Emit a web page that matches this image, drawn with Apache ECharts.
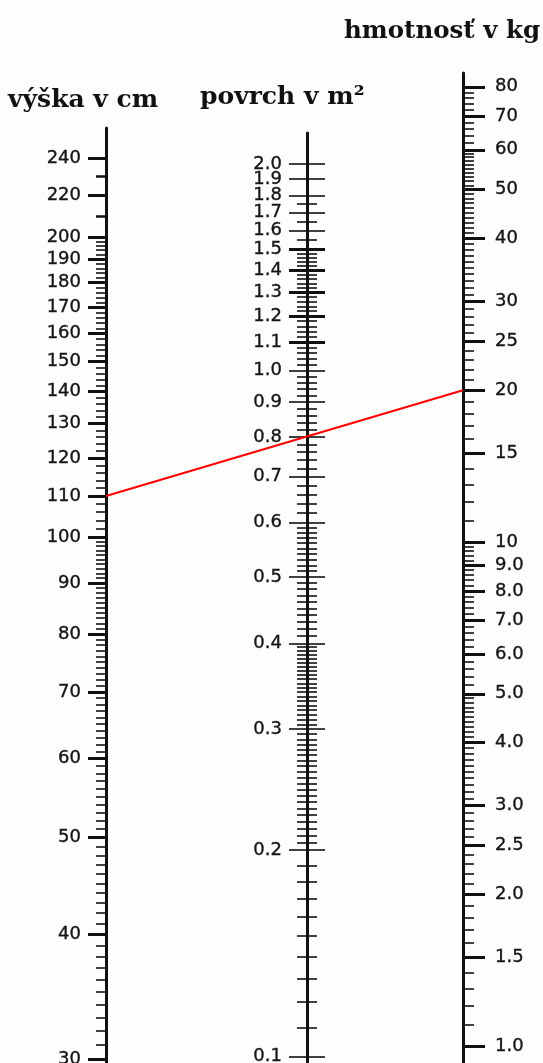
<!DOCTYPE html>
<html><head><meta charset="utf-8">
<script src="https://cdn.jsdelivr.net/npm/echarts@6/dist/echarts.min.js"></script>
<style>html,body{margin:0;padding:0;background:#fdfdfb}#c{width:543px;height:1063px}</style>
</head><body><div id="c"></div>
<script>
// ---------- data ----------
// height scale (cm)
const heightLabels = [30,40,50,60,70,80,90,100,110,120,130,140,150,160,170,180,190,200,220,240];
const heightMediumTicks = [210,230];
const heightMinorRanges = [[30,100,1],[100,200,2]];
// surface scale (m²)
const surfaceLabels = [0.1,0.2,0.3,0.4,0.5,0.6,0.7,0.8,0.9,1.0,1.1,1.2,1.3,1.4,1.5,1.6,1.7,1.8,1.9,2.0];
const surfaceBoldTicks = [1.1,1.2,1.3,1.4,1.5];
const surfaceMinorRanges = [[0.1,0.2,0.01],[0.2,0.4,0.005],[0.4,0.6,0.01],[0.6,1.5,0.02],[1.5,1.8,0.05]];
// weight scale (kg)
const weightLabels = [1.0,1.5,2.0,2.5,3.0,4.0,5.0,6.0,7.0,8.0,9.0,10,15,20,25,30,40,50,60,70,80];
const weightMinorRanges = [[1,5,0.1],[5,10,0.2],[10,60,1],[60,80,2]];
// example reading (red line)
const reading = [110, 20]; // height cm, weight kg
// axis ranges (visible extent of each scale line)
const heightRange = [29.25, 257.2];
const surfaceRange = [0.09557, 2.219];
const weightRange = [0.8966, 85.2];

// ---------- helpers ----------
function expand(ranges, exclude) {
  const out = [];
  const ex = new Set(exclude.map(v => Math.round(v * 1000)));
  ranges.forEach(([a, b, s]) => {
    const n = Math.round((b - a) / s);
    for (let i = 1; i < n; i++) {
      const v = Math.round((a + i * s) * 1000) / 1000;
      if (!ex.has(Math.round(v * 1000))) out.push(v);
    }
  });
  return out;
}
// start the label list in the middle so the crowded top labels are not treated as end labels
function midFirst(arr) {
  const h = Math.floor(arr.length / 2);
  return arr.slice(h).concat(arr.slice(0, h));
}
const heightMinor = expand(heightMinorRanges, heightLabels.concat(heightMediumTicks));
const surfaceLong = surfaceLabels.filter(v => surfaceBoldTicks.indexOf(v) < 0);
const surfaceMinor = expand(surfaceMinorRanges, surfaceLabels);
const weightMinor = expand(weightMinorRanges, weightLabels);

const INK = '#111';
const LBL = {fontFamily: 'DejaVu Sans', fontSize: 18, color: '#151515',
             textBorderColor: '#151515', textBorderWidth: 0.35, hideOverlap: false};

function yAx(grid, range, o) {
  const base = {
    type: 'log', logBase: 10, gridIndex: grid, min: range[0], max: range[1],
    position: 'left', offset: 0,
    axisLine: {show: false}, splitLine: {show: false},
    axisLabel: {show: false}, axisTick: {show: false}
  };
  return Object.assign(base, o);
}
function ticks(values, len, width, inside) {
  return {show: true, customValues: values, length: len, inside: !!inside,
          lineStyle: {color: INK, width: width}};
}

const grids = [
  {left: 106, width: 20, top: 128, bottom: -7, outerBoundsMode: 'none'},
  {left: 307, width: 20, top: 133, bottom: -7, outerBoundsMode: 'none'},
  {left: 463, width: 20, top: 73, bottom: -7, outerBoundsMode: 'none'}
];
const xAxes = grids.map((g, i) => ({type: 'value', gridIndex: i, min: 0, max: 1, show: false}));

const yAxes = [
  // height
  yAx(0, heightRange, {
    axisLine: {show: true, lineStyle: {color: INK, width: 3}},
    axisTick: ticks(midFirst(heightLabels), 18, 3),
    axisLabel: Object.assign({show: true, customValues: midFirst(heightLabels), margin: 25,
      formatter: v => String(Math.round(v))}, LBL)
  }),
  yAx(0, heightRange, {axisTick: ticks(heightMediumTicks, 10, 2.5)}),
  yAx(0, heightRange, {axisTick: ticks(heightMinor, 10, 1.6)}),
  // surface
  yAx(1, surfaceRange, {
    axisLine: {show: true, lineStyle: {color: INK, width: 3}},
    axisTick: ticks(midFirst(surfaceLong), 18, 1.6),
    axisLabel: Object.assign({show: true, customValues: midFirst(surfaceLabels), margin: 25,
      formatter: v => Number(v).toFixed(1)}, LBL)
  }),
  yAx(1, surfaceRange, {axisTick: ticks(surfaceLong, 18, 1.6, true)}),
  yAx(1, surfaceRange, {axisTick: ticks(surfaceBoldTicks, 18, 3)}),
  yAx(1, surfaceRange, {axisTick: ticks(surfaceBoldTicks, 18, 3, true)}),
  yAx(1, surfaceRange, {axisTick: ticks(surfaceMinor, 10, 1.6)}),
  yAx(1, surfaceRange, {axisTick: ticks(surfaceMinor, 10, 1.6, true)}),
  // weight
  yAx(2, weightRange, {
    axisLine: {show: true, lineStyle: {color: INK, width: 3}},
    axisTick: ticks(midFirst(weightLabels), 22, 3, true),
    axisLabel: Object.assign({show: true, inside: true, customValues: midFirst(weightLabels), margin: 32,
      formatter: v => (v >= 10 ? String(Math.round(v)) : Number(v).toFixed(1))}, LBL)
  }),
  yAx(2, weightRange, {axisTick: ticks(weightMinor, 11, 1.6, true)})
];

const titleStyle = {fontFamily: 'DejaVu Serif', fontWeight: 'bold', fontSize: 25, color: '#111'};
const chart = echarts.init(document.getElementById('c'), null, {renderer: 'canvas'});
chart.setOption({
  backgroundColor: '#fdfdfb',
  animation: false,
  title: [
    {text: 'hmotnosť v kg', left: 344, top: 19, padding: 0,
     textStyle: Object.assign({}, titleStyle, {fontSize: 24.5})},
    {text: 'výška v cm', left: 8, top: 88, padding: 0, textStyle: titleStyle},
    {text: 'povrch v m²', left: 200, top: 85, padding: 0, textStyle: titleStyle}
  ],
  grid: grids,
  xAxis: xAxes,
  yAxis: yAxes,
  series: [{
    type: 'custom',
    coordinateSystem: 'none',
    data: [reading],
    renderItem: function (params, api) {
      const p1 = chart.convertToPixel({gridIndex: 0}, [0, api.value(0)]);
      const p2 = chart.convertToPixel({gridIndex: 2}, [0, api.value(1)]);
      return {type: 'line', shape: {x1: p1[0], y1: p1[1], x2: p2[0], y2: p2[1]},
              style: {stroke: '#ff0000', lineWidth: 2}};
    }
  }]
});
</script>
</body></html>
